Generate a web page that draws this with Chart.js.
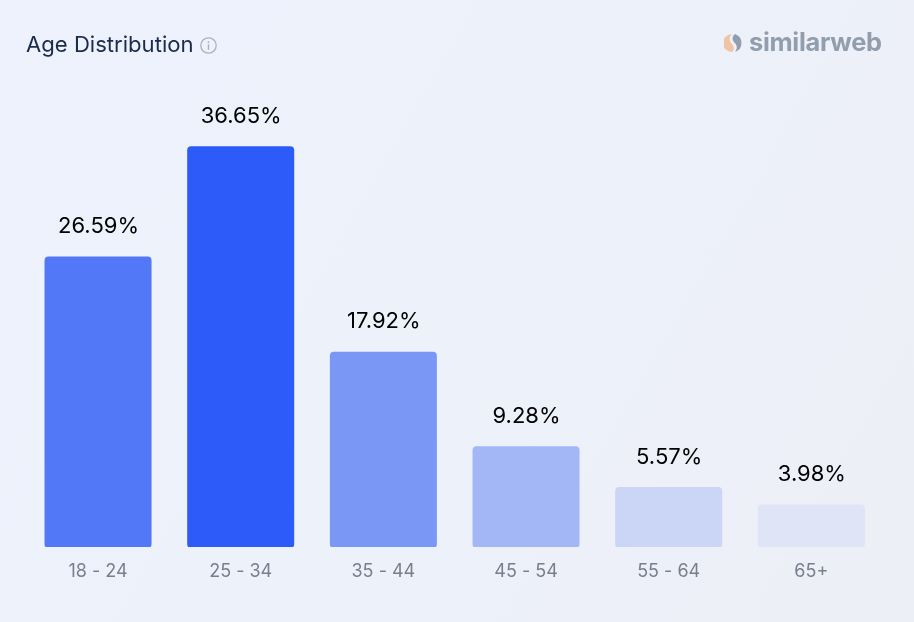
<!DOCTYPE html>
<html>
<head>
<meta charset="utf-8">
<title>Age Distribution</title>
<script src="https://cdn.jsdelivr.net/npm/chart.js@4"></script>
<style>
    html, body { margin: 0; padding: 0; }
    body {
        width: 914px;
        height: 622px;
        overflow: hidden;
        position: relative;
        background: linear-gradient(120deg, #edf2fc 0%, #edf1fa 55%, #edeff6 100%);
        font-family: Inter, sans-serif;
    }
    #myChart { position: absolute; left: 0; top: 0; }
    #titulo {
        position: absolute;
        left: 26px;
        top: 31px;
        font-size: 22.1px;
        line-height: 27px;
        color: #1b2b4b;
    }
    #info { position: absolute; left: 200px; top: 37px; }
    #logo { position: absolute; left: 724px; top: 33px; }
    #logo_texto {
        position: absolute;
        left: 749px;
        top: 26px;
        font-size: 25.4px;
        line-height: 32px;
        font-weight: 700;
        color: #929eae;
        letter-spacing: -0.3px;
    }
</style>
</head>
<body>
<canvas id="myChart" width="914" height="622"></canvas>
<div id="titulo">Age Distribution</div>
<svg id="info" width="17" height="17" viewBox="0 0 17 17">
    <circle cx="8.5" cy="8.5" r="7.7" fill="none" stroke="#aab1c0" stroke-width="1.3"/>
    <circle cx="8.5" cy="5.2" r="0.9" fill="#aab1c0"/>
    <rect x="7.8" y="7.2" width="1.4" height="5.6" fill="#aab1c0"/>
</svg>
<svg id="logo" width="20" height="20" viewBox="0 0 20 20">
    <path d="M8 1 A9 9 0 0 0 8 19 C11 16 10 13 7 10 C5 7 5 4 8 1 Z" fill="#f0c3a2"/>
    <path d="M11 1 C8 4 8 6 10 9 C13 12 14 15 11 19 A9.5 9.5 0 0 0 11 1 Z" fill="#929eae"/>
</svg>
<div id="logo_texto">similarweb</div>
<script>
//vetores do grafico
const categorias = ['18 - 24', '25 - 34', '35 - 44', '45 - 54', '55 - 64', '65+'];
const valores = [26.59, 36.65, 17.92, 9.28, 5.57, 3.98];
const cores = ['#5278f8', '#2c5bfa', '#7a97f5', '#a3b6f6', '#cbd5f5', '#dfe5f7'];

//escreve o valor em cima de cada barra
const rotulos = {
    id: 'rotulos',
    afterDatasetsDraw(chart) {
        const ctx = chart.ctx;
        ctx.save();
        ctx.font = '22px Inter, sans-serif';
        ctx.fillStyle = '#000000';
        ctx.textAlign = 'center';
        ctx.textBaseline = 'middle';
        chart.getDatasetMeta(0).data.forEach((barra, i) => {
            ctx.fillText(`${valores[i].toFixed(2)}%`, barra.x + 0.5, barra.y - 30);
        });
        ctx.restore();
    }
};

const data = {
    labels: categorias,
    datasets: [{
        data: valores,
        backgroundColor: cores,
        barPercentage: 0.75,
        categoryPercentage: 1,
        borderRadius: 4,
        borderSkipped: false
    }]
};

const config = {
    type: 'bar',
    data: data,
    plugins: [rotulos],
    options: {
        responsive: false,
        animation: false,
        layout: { padding: { left: 26.7, right: 31.3, top: 109.6, bottom: 0 } },
        plugins: {
            legend: { display: false },
            tooltip: { enabled: false }
        },
        scales: {
            x: {
                grid: { display: false },
                border: { display: false },
                afterFit(eixo) { eixo.height = 75; },
                ticks: {
                    color: '#777f8c',
                    padding: 6,
                    maxRotation: 0,
                    font: { family: 'Inter, sans-serif', size: 18 }
                }
            },
            y: {
                display: false,
                min: 0.1,
                max: 40
            }
        }
    }
};

const myChart = new Chart(document.getElementById('myChart'), config);
</script>
</body>
</html>
